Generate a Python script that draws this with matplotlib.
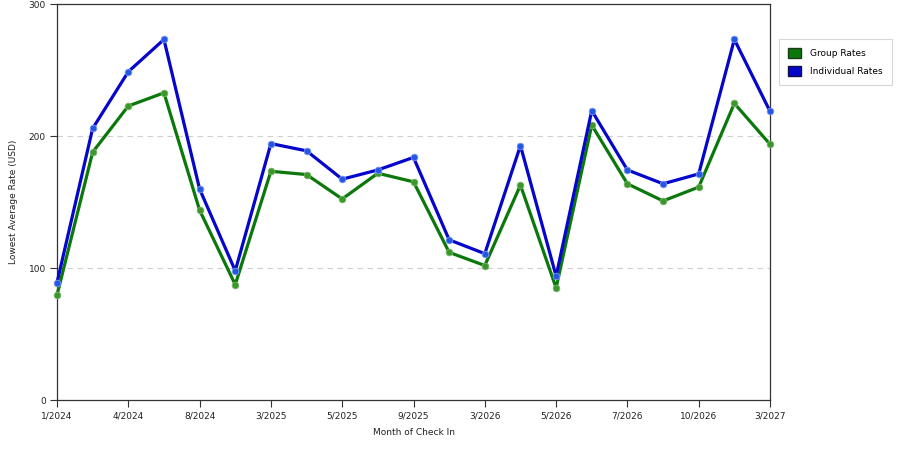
import matplotlib
matplotlib.use("Agg")
import matplotlib.pyplot as plt
from matplotlib.patches import Patch

# month of check-in, one entry per point (labels only on every other one)
months = ['1/2024', '', '4/2024', '', '8/2024', '', '3/2025', '', '5/2025', '',
          '9/2025', '', '3/2026', '', '5/2026', '', '7/2026', '', '10/2026', '', '3/2027']

group_rates = [79.5, 188, 223, 233, 144, 87.5, 173.5, 171, 152.5, 172, 165.5,
               112, 102, 163, 85, 208.5, 164, 151, 161.5, 225, 194]
individual_rates = [89, 206, 249, 273.5, 160, 98, 194.5, 189, 167.5, 174.5, 184,
                    121.5, 111, 193, 94, 219.5, 174.5, 164, 171.5, 273.5, 219]

green = '#0a780a'
blue = '#0505cc'

fig = plt.figure(figsize=(9, 4.5), dpi=100)
ax = fig.add_axes([57 / 900, 1 - 400 / 450, (770 - 57) / 900, (400 - 4.5) / 450])

x = list(range(len(months)))
ax.plot(x, group_rates, color=green, lw=2.3, marker='o', ms=4.8,
        mfc='#3a982a', mec='#7ab46a', mew=0.6, zorder=3, clip_on=False)
ax.plot(x, individual_rates, color=blue, lw=2.3, marker='o', ms=4.8,
        mfc='#2458e4', mec='#7f98ec', mew=0.6, zorder=4, clip_on=False)

ax.set_xlim(0, len(months) - 1)
ax.set_ylim(0, 300)
ax.set_yticks([0, 100, 200, 300])
ax.set_xticks(x[::2])
ax.set_xticklabels(months[::2])

for y in [100, 200]:
    ax.axhline(y, color='#d0d0d0', lw=0.8, ls=(0, (5, 4)), zorder=1)

for s in ax.spines.values():
    s.set_color('#333333')
    s.set_linewidth(0.9)
ax.tick_params(axis='both', direction='out', length=5, width=0.8,
               color='#333333', labelsize=6.5, labelcolor='#222222', pad=3)

ax.set_xlabel('Month of Check In', fontsize=6.5, color='#222222', labelpad=6)
ax.set_ylabel('Lowest Average Rate (USD)', fontsize=6.5, color='#222222', labelpad=8)

handles = [Patch(facecolor=green, edgecolor='#1a3a1a', label='Group Rates'),
           Patch(facecolor=blue, edgecolor='#10104a', label='Individual Rates')]
leg = fig.legend(handles=handles, loc='upper left', bbox_to_anchor=(779 / 900, 1 - 39 / 450),
                 borderaxespad=0, fontsize=6.5, frameon=True, fancybox=False,
                 handlelength=1.45, handleheight=1.4, borderpad=1.0,
                 labelspacing=0.8, handletextpad=1.0)
leg.get_frame().set_edgecolor('#cccccc')
leg.get_frame().set_linewidth(0.8)

fig.savefig('out.png', dpi=100)
